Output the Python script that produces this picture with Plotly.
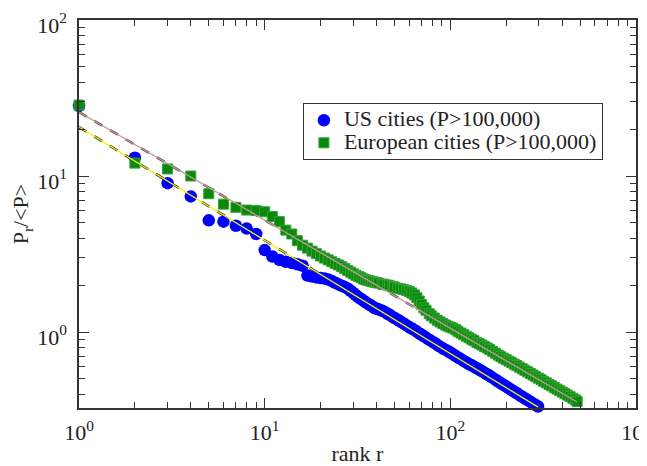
import plotly.graph_objects as go

# ---- data ----
us_rank = [1, 2, 3, 4, 5, 6, 7, 8, 9, 10, 11, 12, 13, 14, 15, 16, 17, 18, 19, 20,
           21, 22, 23, 24, 25, 26, 27, 28, 29, 30, 31, 32, 33, 34, 35, 36, 37, 38, 39, 40,
           41, 42, 43, 44, 46, 47, 49, 50, 52, 53, 55, 57, 59, 61, 63, 65, 67, 69, 71, 73,
           76, 78, 81, 83, 86, 89, 92, 95, 98, 101, 104, 107, 111, 114, 118, 122, 126, 130,
           134, 138, 142, 147, 151, 156, 161, 166, 171, 177, 182, 188, 194, 200, 206, 213,
           219, 226, 233, 240, 248, 256, 264, 272, 280, 288, 297]
us_value = [28.1, 13.1, 9.0, 7.4, 5.2, 5.1, 4.8, 4.6, 4.25, 3.35, 3.05, 2.9, 2.82, 2.77, 2.72, 2.66,
            2.3, 2.27, 2.24, 2.22, 2.2, 2.17, 2.12, 2.07, 2.02, 1.98, 1.94, 1.9, 1.84, 1.78,
            1.72, 1.67, 1.63, 1.59, 1.55, 1.52, 1.49, 1.46, 1.43, 1.41,
            1.40, 1.38, 1.37, 1.35, 1.31, 1.29, 1.25, 1.23, 1.20, 1.18, 1.15, 1.12, 1.09,
            1.065, 1.04, 1.02, 0.99, 0.97, 0.95, 0.93, 0.90, 0.885, 0.86, 0.845, 0.82, 0.80,
            0.78, 0.765, 0.75, 0.733, 0.717, 0.70, 0.683, 0.67, 0.653, 0.638, 0.624, 0.612,
            0.60, 0.588, 0.577, 0.564, 0.553, 0.54, 0.528, 0.516, 0.504, 0.491, 0.48, 0.468,
            0.457, 0.447, 0.437, 0.426, 0.417, 0.408, 0.398, 0.389, 0.38, 0.371, 0.363,
            0.355, 0.347, 0.340, 0.333]

eu_rank = [1, 2, 3, 4, 5, 6, 7, 8, 9, 10, 11, 12, 13, 14, 15, 16, 17, 18, 19, 20,
           21, 22, 23, 24, 25, 26, 27, 28, 29, 30, 31, 32, 33, 34, 35, 36, 37, 38, 39, 40,
           41, 43, 44, 46, 47, 49, 50, 52, 54, 56, 58, 60, 62, 64, 66, 68, 70, 72, 74, 77,
           79, 82, 85, 88, 91, 94, 97, 100, 103, 107, 110, 114, 118, 122, 126, 130, 134, 139,
           143, 148, 153, 158, 163, 169, 175, 181, 187, 193, 200, 207, 214, 221, 228, 236,
           244, 252, 261, 270, 279, 288, 298, 308, 318, 329, 340, 351, 363, 375, 388, 401,
           414, 428, 442, 457, 472, 482]
eu_value = [28.5, 12.1, 11.1, 10.0, 7.7, 6.6, 6.3, 6.05, 6.0, 5.9, 5.5, 5.1, 4.5, 4.25, 3.85, 3.6,
            3.45, 3.3, 3.18, 3.07, 2.98, 2.9, 2.82, 2.75, 2.69, 2.62, 2.55, 2.48, 2.42, 2.36,
            2.31, 2.27, 2.23, 2.19, 2.16, 2.14, 2.12, 2.10, 2.09, 2.075,
            2.06, 2.03, 2.02, 2.0, 1.98, 1.95, 1.94, 1.91, 1.89, 1.87, 1.85, 1.82, 1.78,
            1.73, 1.66, 1.58, 1.50, 1.43, 1.38, 1.31, 1.27, 1.23, 1.19, 1.16, 1.135, 1.11,
            1.09, 1.075, 1.06, 1.035, 1.01, 0.985, 0.961, 0.939, 0.918, 0.899, 0.88, 0.858,
            0.843, 0.825, 0.808, 0.79, 0.772, 0.752, 0.731, 0.712, 0.695, 0.68, 0.665, 0.65,
            0.636, 0.622, 0.609, 0.595, 0.581, 0.568, 0.555, 0.542, 0.53, 0.518, 0.506,
            0.495, 0.483, 0.472, 0.461, 0.452, 0.441, 0.431, 0.421, 0.412, 0.403, 0.394,
            0.385, 0.376, 0.367, 0.358]

# fitted power-law lines (end points)
us_fit_rank = [1, 297]
us_fit_value = [20.6, 0.330]
eu_fit_rank = [1, 482]
eu_fit_value = [25.7, 0.356]

x_tick_vals = [1, 10, 100, 1000]
x_tick_text = ["10<sup>0</sup>", "10<sup>1</sup>", "10<sup>2</sup>", "10<sup>3</sup>"]
y_tick_vals = [1, 10, 100]
y_tick_text = ["10<sup>0</sup>", "10<sup>1</sup>", "10<sup>2</sup>"]
x_minor = [m * d for d in (1, 10, 100) for m in range(2, 10)]
y_minor = [m / 10 for m in range(4, 10)] + [m * d for d in (1, 10) for m in range(2, 10)]

legend_names = ["US cities (P>100,000)", "European cities (P>100,000)"]

FONT = "Liberation Serif, Times New Roman, serif"


def big(text):
    return '<span style="font-size:22px">' + text + "</span>"


fig = go.Figure()

# dashed dark under-lines
fig.add_trace(go.Scatter(x=eu_fit_rank, y=eu_fit_value, mode="lines", showlegend=False,
                         line=dict(color="#5a4848", width=2.5, dash="dash"), hoverinfo="skip"))
fig.add_trace(go.Scatter(x=us_fit_rank, y=us_fit_value, mode="lines", showlegend=False,
                         line=dict(color="#222222", width=2.5, dash="dash"), hoverinfo="skip"))

fig.add_trace(go.Scatter(x=us_rank, y=us_value, mode="markers", name=big(legend_names[0]),
                         cliponaxis=False,
                         marker=dict(symbol="circle", size=12.5, color="#0000ff",
                                     line=dict(width=0))))
fig.add_trace(go.Scatter(x=eu_rank, y=eu_value, mode="markers", name=big(legend_names[1]),
                         cliponaxis=False,
                         marker=dict(symbol="square", size=10, color="#0a8a0a",
                                     line=dict(width=1, color="#36a336"))))

# thin coloured over-lines
fig.add_trace(go.Scatter(x=eu_fit_rank, y=eu_fit_value, mode="lines", showlegend=False,
                         line=dict(color="#c49a9a", width=1.3), hoverinfo="skip"))
fig.add_trace(go.Scatter(x=us_fit_rank, y=us_fit_value, mode="lines", showlegend=False,
                         line=dict(color="#f0f000", width=1.3), hoverinfo="skip"))

axis_common = dict(
    showgrid=False, zeroline=False, showline=True, linecolor="#333333", linewidth=1.5,
    mirror="ticks", ticks="inside", ticklen=10, tickwidth=1.3, tickcolor="#333333",
    tickfont=dict(family=FONT, size=22, color="#222222"), automargin=False,
    ticklabeloverflow="allow",
)

# the page body adds an 8px offset, so the figure is drawn 8px smaller and shifted
fig.update_layout(
    width=639, height=458,
    margin=dict(l=71, r=11, t=12, b=58),
    paper_bgcolor="white", plot_bgcolor="white",
    font=dict(family=FONT, color="#222222"),
    xaxis=dict(type="log", range=[0, 3], tickmode="array", tickvals=x_tick_vals,
               ticktext=x_tick_text, ticklabelstandoff=4,
               minor=dict(tickmode="array", tickvals=x_minor, ticks="inside", ticklen=6,
                          tickwidth=1.2, tickcolor="#333333", showgrid=False),
               title=dict(text="rank r", font=dict(family=FONT, size=22, color="#222222"),
                          standoff=7),
               **axis_common),
    yaxis=dict(type="log", range=[-0.487, 2], tickmode="array", tickvals=y_tick_vals,
               ticktext=y_tick_text, ticklabelstandoff=6, ticklabelshift=5,
               minor=dict(tickmode="array", tickvals=y_minor, ticks="inside", ticklen=6,
                          tickwidth=1.2, tickcolor="#333333", showgrid=False),
               title=dict(text="P<sub>r</sub>/&lt;P&gt;", font=dict(family=FONT, size=22, color="#222222"),
                          standoff=3),
               **axis_common),
    legend=dict(x=0.402, y=0.786, xanchor="left", yanchor="top",
                bgcolor="white", bordercolor="#333333", borderwidth=1,
                font=dict(family=FONT, size=15, color="#222222"),
                itemwidth=30, tracegroupgap=0),
    showlegend=True,
)

fig.write_html("out.html")
